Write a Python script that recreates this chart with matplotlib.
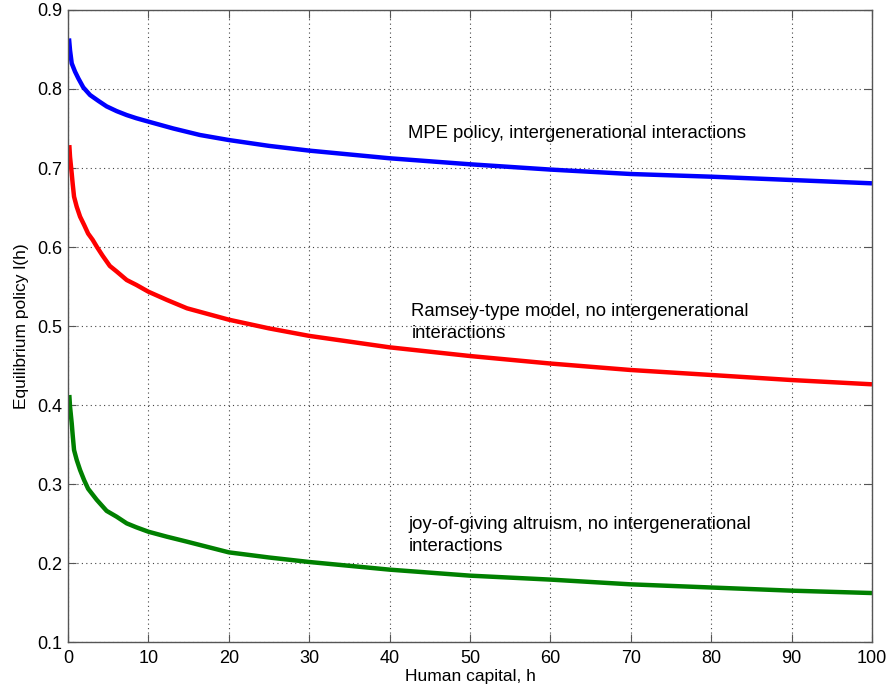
import numpy as np
import matplotlib
matplotlib.use("Agg")
import matplotlib.pyplot as plt

plt.rcParams['font.family'] = ['Liberation Sans', 'DejaVu Sans']

# Human capital h (x) and policy values
h_mpe = [0.12, 0.25, 0.46, 0.87, 1.28, 1.9, 2.74, 3.77, 4.8, 6.05, 7.3, 8.5, 10, 13.1, 16.4,
         20, 25, 30, 40, 50, 60, 70, 80, 90, 100]
l_mpe = [0.864, 0.849, 0.8325, 0.822, 0.8135, 0.802, 0.7924, 0.785, 0.778, 0.772, 0.767,
         0.763, 0.7587, 0.750, 0.7418, 0.7354, 0.728, 0.722, 0.7123, 0.7047, 0.698, 0.6924,
         0.689, 0.6848, 0.6806]

h_ram = [0.16, 0.25, 0.46, 0.58, 0.75, 1.08, 1.5, 2.0, 2.5, 3.07, 3.6, 4.3, 5.2, 6.05, 7.3,
         8.5, 10, 12.3, 14.8, 20, 25, 30, 40, 50, 60, 70, 80, 90, 100]
l_ram = [0.729, 0.714, 0.693, 0.680, 0.6637, 0.651, 0.6384, 0.628, 0.617, 0.609, 0.600,
         0.589, 0.576, 0.569, 0.5582, 0.552, 0.5434, 0.533, 0.5224, 0.508, 0.497, 0.4875,
         0.473, 0.462, 0.4525, 0.4443, 0.438, 0.4316, 0.4262]

h_joy = [0.16, 0.25, 0.46, 0.58, 0.75, 1.08, 1.5, 2.0, 2.5, 3.57, 4.8, 6.05, 7.3, 8.5, 10,
         12.3, 14.8, 20, 25, 30, 40, 50, 60, 70, 80, 90, 100]
l_joy = [0.4127, 0.398, 0.3768, 0.362, 0.343, 0.3305, 0.3177, 0.305, 0.294, 0.280, 0.266,
         0.2586, 0.2502, 0.2452, 0.2396, 0.2333, 0.227, 0.2135, 0.207, 0.2013, 0.1916,
         0.184, 0.179, 0.173, 0.169, 0.165, 0.162]

labels = ["MPE policy, intergenerational interactions",
          "Ramsey-type model, no intergenerational\ninteractions",
          "joy-of-giving altruism, no intergenerational\ninteractions"]
label_pos = [(42.3, 0.744), (42.7, 0.5045), (42.4, 0.2345)]

x_ticks = [0, 10, 20, 30, 40, 50, 60, 70, 80, 90, 100]
y_ticks = [0.1, 0.2, 0.3, 0.4, 0.5, 0.6, 0.7, 0.8, 0.9]

fig = plt.figure(figsize=(8.88, 6.94), dpi=100)
ax = fig.add_axes([0.0766, 0.0749, 0.9054, 0.9107])

ax.plot(h_mpe, l_mpe, color='#0000ff', lw=3.2, solid_capstyle='butt', solid_joinstyle='round')
ax.plot(h_ram, l_ram, color='#ff0000', lw=3.2, solid_capstyle='butt', solid_joinstyle='round')
ax.plot(h_joy, l_joy, color='#008000', lw=3.2, solid_capstyle='butt', solid_joinstyle='round')

for txt, (x, y) in zip(labels, label_pos):
    ax.text(x, y, txt, ha='left', va='center', fontsize=13.3, linespacing=1.35, color='black')

ax.set_xlim(0, 100)
ax.set_ylim(0.1, 0.9)
ax.set_xticks(x_ticks)
ax.set_yticks(y_ticks)
ax.set_xticklabels([str(t) for t in x_ticks])
ax.set_yticklabels([f"{t:.1f}" for t in y_ticks])
ax.tick_params(direction='in', top=True, right=True, labelsize=13, length=6, color='#555555')
ax.tick_params(axis='x', pad=6)
ax.tick_params(axis='y', pad=4)
ax.grid(True, linestyle=(0, (1, 3)), color='#444444', linewidth=0.8)
for s in ax.spines.values():
    s.set_color('#555555')
    s.set_linewidth(1.0)

ax.set_xlabel("Human capital, h", fontsize=12.5, labelpad=1)
ax.set_ylabel("Equilibrium policy l(h)", fontsize=12.5, labelpad=6)

fig.savefig("out.png", dpi=100)
